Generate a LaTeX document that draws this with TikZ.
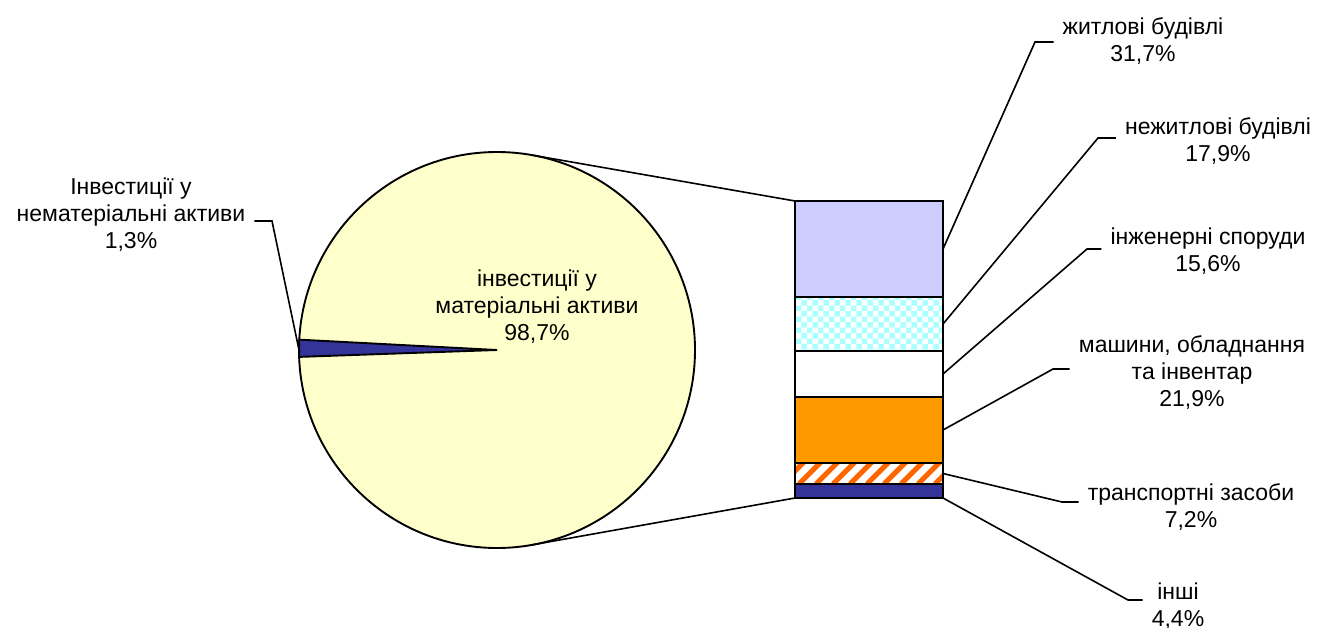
\documentclass[tikz,border=0pt]{standalone}
\usepackage{fontspec}
\setmainfont{Liberation Sans}
\usepackage{xcolor}
\definecolor{cream}{RGB}{255,255,204}
\definecolor{indigo}{RGB}{51,51,153}
\definecolor{lavender}{RGB}{204,204,255}
\definecolor{aqua}{RGB}{170,255,255}
\definecolor{amber}{RGB}{255,153,0}
\definecolor{tangerine}{RGB}{255,102,0}
\usepackage{tikz}
\usetikzlibrary{positioning,patterns,calc}

\begin{document}
\begin{tikzpicture}[x=1pt, y=-1pt, node distance=0pt,
        chartline/.style={line width=1.9pt},
        leader/.style={line width=1.6pt},
        segbox/.style={draw, chartline, rectangle, minimum width=148pt, inner sep=0pt, outer sep=0pt},
        caption/.style={align=center, inner sep=9pt, font=\fontsize{23}{27}\selectfont}]
    \useasboundingbox (0,0) rectangle (1319,628);
    \node[circle, draw, chartline, fill=cream, minimum size=396pt, inner sep=0pt, outer sep=0pt] (pie) at (497,350) {};
    \filldraw[chartline, fill=indigo] (pie.center) -- (pie.177.7) -- (pie.182.3) -- cycle;
    \node[caption] (tangiblelabel) at (537,307) {інвестиції у\\матеріальні активи\\98,7\%};
    \node[caption] (intangiblelabel) at (131,215) {Інвестиції у\\нематеріальні активи\\1,3\%};
    \coordinate (intangibleknee) at (272,221);
    \draw[leader] (pie.180) -- (intangibleknee) -- (intangibleknee -| intangiblelabel.east);

    \node[segbox, fill=lavender, minimum height=96pt, anchor=north west] (housing) at (795,201) {};
    \node[segbox, pattern=checkerboard, pattern color=aqua, minimum height=54pt, below=of housing] (nonhousing) {};
    \node[segbox, fill=white, minimum height=46pt, below=of nonhousing] (structures) {};
    \node[segbox, fill=amber, minimum height=66pt, below=of structures] (machinery) {};
    \node[segbox, fill=white, minimum height=21pt, below=of machinery,
        path picture={\foreach \k in {-30,-13,...,160}
            \draw[tangerine, line width=5pt] ($(path picture bounding box.south west)+(\k,0)$) -- ++(30,-30);}] (transport) {};
    \node[segbox, fill=indigo, minimum height=14pt, below=of transport] (other) {};
    \draw[leader] (pie.80) -- (housing.north west);
    \draw[leader] (pie.280) -- (other.south west);

    \node[caption] (housinglabel) at (1143,41.5) {житлові будівлі\\31,7\%};
    \node[caption] (nonhousinglabel) at (1218,141) {нежитлові будівлі\\17,9\%};
    \node[caption] (structureslabel) at (1208,251) {інженерні споруди\\15,6\%};
    \node[caption] (machinerylabel) at (1192,372.5) {машини, обладнання\\та інвентар\\21,9\%};
    \node[caption] (transportlabel) at (1191,507.5) {транспортні засоби\\7,2\%};
    \node[caption] (otherlabel) at (1178,606) {інші\\4,4\%};
    \coordinate (housingknee) at (1035,42);
    \coordinate (nonhousingknee) at (1098,138);
    \coordinate (structuresknee) at (1087,249);
    \coordinate (machineryknee) at (1053,369);
    \coordinate (transportknee) at (1062,502);
    \coordinate (otherknee) at (1128,600);
    \draw[leader] (housing.east) -- (housingknee) -- (housingknee -| housinglabel.west);
    \draw[leader] (nonhousing.east) -- (nonhousingknee) -- (nonhousingknee -| nonhousinglabel.west);
    \draw[leader] (structures.east) -- (structuresknee) -- (structuresknee -| structureslabel.west);
    \draw[leader] (machinery.east) -- (machineryknee) -- (machineryknee -| machinerylabel.west);
    \draw[leader] (transport.east) -- (transportknee) -- (transportknee -| transportlabel.west);
    \draw[leader] (other.south east) -- (otherknee) -- (otherknee -| otherlabel.west);
\end{tikzpicture}
\end{document}
